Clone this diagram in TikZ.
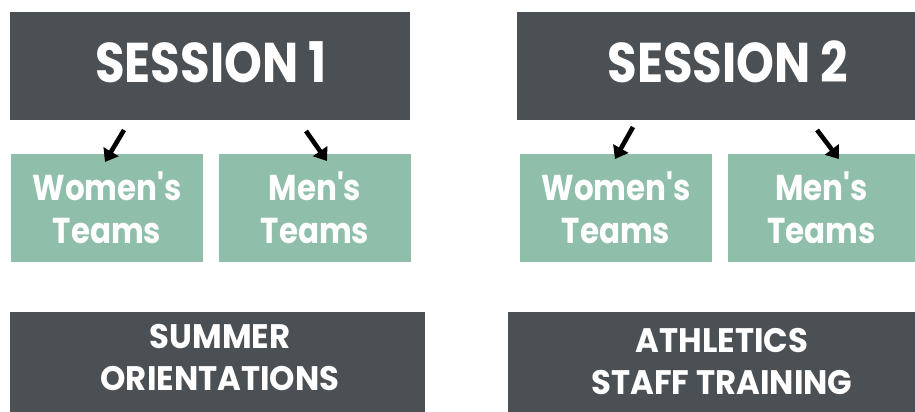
\documentclass[tikz,border=0pt]{standalone}
\usepackage{fontspec}
\setmainfont{Poppins}[UprightFont=* Bold, FakeStretch=0.86, Ligatures=TeXOff]
\newfontfamily\bottomfont{Poppins}[UprightFont=* Bold, FakeStretch=0.95, Ligatures=TeXOff]
\usetikzlibrary{arrows.meta}
\definecolor{darkbox}{RGB}{75,80,84}
\definecolor{greenbox}{RGB}{143,190,170}
\tikzset{
  x=1pt, y=-1pt,
  darkstyle/.style={fill=darkbox, draw=none, text=white, inner sep=0pt, align=center},
  greenstyle/.style={fill=greenbox, draw=none, text=white, inner sep=0pt, align=center},
  labelstyle/.style={text=white, inner sep=0pt, align=center},
  arrowstyle/.style={line width=4.6pt, -{Triangle[width=17pt,length=12pt]}, black}
}
\begin{document}
\begin{tikzpicture}
\useasboundingbox (0,0) rectangle (915,412);
% session boxes
\node[darkstyle, minimum width=400pt, minimum height=108pt] (s1box) at (210,66) {};
\node[darkstyle, minimum width=398pt, minimum height=108pt] (s2box) at (716,66) {};
\node[labelstyle, font=\fontsize{56}{60}\selectfont] (s1) at (211,62) {SESSION 1};
\node[labelstyle, font=\fontsize{56}{60}\selectfont] (s2) at (728,62) {SESSION 2};
% green boxes
\node[greenstyle, minimum width=192pt, minimum height=108pt, font=\fontsize{36}{43}\selectfont] (w1) at (107,208) {Women's\\Teams};
\node[greenstyle, minimum width=192pt, minimum height=108pt, font=\fontsize{36}{43}\selectfont] (m1) at (315,208) {Men's\\Teams};
\node[greenstyle, minimum width=192pt, minimum height=108pt, font=\fontsize{36}{43}\selectfont] (w2) at (616,208) {Women's\\Teams};
\node[greenstyle, minimum width=187pt, minimum height=108pt, font=\fontsize{36}{43}\selectfont] (m2) at (821.5,208) {Men's\\Teams};
% bottom boxes
\node[darkstyle, minimum width=415pt, minimum height=100pt] (b1box) at (217.5,362) {};
\node[darkstyle, minimum width=407pt, minimum height=100pt] (b2box) at (711.5,362) {};
\node[labelstyle, font=\bottomfont\fontsize{34}{42}\selectfont] (b1) at (220,357.5) {SUMMER\\ORIENTATIONS};
\node[labelstyle, font=\bottomfont\fontsize{34}{42}\selectfont] (b2) at (722,361.5) {ATHLETICS\\STAFF TRAINING};
% arrow end points
\coordinate (a1s) at (124,130);
\coordinate (a1e) at (105,162);
\coordinate (a2s) at (306,131);
\coordinate (a2e) at (327,161);
\coordinate (a3s) at (633,127);
\coordinate (a3e) at (615,159);
\coordinate (a4s) at (817,130);
\coordinate (a4e) at (839,159);
\draw[arrowstyle] (a1s) -- (a1e);
\draw[arrowstyle] (a2s) -- (a2e);
\draw[arrowstyle] (a3s) -- (a3e);
\draw[arrowstyle] (a4s) -- (a4e);
\end{tikzpicture}
\end{document}
